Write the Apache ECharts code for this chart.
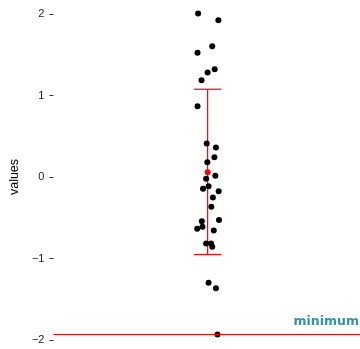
<!DOCTYPE html>
<html>
<head>
<meta charset="utf-8">
<script src="https://cdn.jsdelivr.net/npm/echarts@6/dist/echarts.min.js"></script>
<style>
  html, body { margin: 0; padding: 0; background: #fff; }
  #chart { width: 360px; height: 349px; }
</style>
</head>
<body>
<div id="chart"></div>
<script>
// jittered observations (x = jittered group position, y = value)
const pointX = [0.972, 1.038, 1.018, 0.970, 1.026, 1.003, 0.983, 0.970,
  1.000, 1.030, 1.025, 1.002, 1.028, 0.998, 1.006, 0.988, 1.039, 1.020,
  1.015, 0.984, 1.040, 0.969, 0.986, 1.023, 0.998, 1.014, 1.018,
  1.006, 1.030, 1.035];
const pointY = [2.006, 1.924, 1.605, 1.524, 1.323, 1.282, 1.188, 0.869,
  0.411, 0.362, 0.243, 0.182, 0.015, -0.022, -0.113, -0.145, -0.174, -0.252,
  -0.366, -0.542, -0.528, -0.636, -0.611, -0.656, -0.816, -0.816, -0.857,
  -1.298, -1.364, -1.933];

// summary: mean and error bar ends
const summaryX = [1.003];
const summaryMean = [0.059];
const summaryLow = [-0.951];
const summaryHigh = [1.077];
const capHalf = 0.045;

const minimumValue = -1.933;
const minimumLabel = "minimum";
const yTicks = [-2, -1, 0, 1, 2];

const chart = echarts.init(document.getElementById("chart"));

const font = "Liberation Sans, Arial, sans-serif";

const option = {
  animation: false,
  grid: { left: 49, right: 0, top: 14, bottom: 9 },
  xAxis: {
    type: "value",
    min: 0.5,
    max: 1.5,
    show: false,
  },
  yAxis: {
    type: "value",
    min: yTicks[0],
    max: yTicks[yTicks.length - 1],
    interval: 1,
    name: "values",
    nameLocation: "middle",
    nameRotate: 90,
    nameGap: 27,
    nameTextStyle: { fontFamily: font, fontSize: 12.5, color: "#000" },
    axisLine: { show: false },
    axisTick: { show: true, length: 4, lineStyle: { color: "#333", width: 1 } },
    axisLabel: {
      margin: 9,
      fontFamily: font,
      fontSize: 11,
      color: "#222",
      formatter: (v) => String(v).replace("-", "\u2212"),
    },
    splitLine: { show: false },
  },
  series: [
    {
      type: "scatter",
      clip: false,
      symbolSize: 6,
      itemStyle: { color: "#000", opacity: 1 },
      data: pointX.map((x, i) => [x, pointY[i]]),
      markLine: {
        silent: true,
        symbol: "none",
        lineStyle: { color: "#ff0000", width: 1.2, type: "solid" },
        label: {
          show: true,
          position: "insideEndTop",
          formatter: minimumLabel,
          color: "#3592ad",
          fontFamily: "DejaVu Sans, sans-serif",
          fontWeight: "bold",
          fontSize: 12.5,
          distance: [1, 6],
        },
        data: [{ yAxis: minimumValue }],
      },
    },
    {
      type: "custom",
      clip: false,
      data: summaryX.map((x, i) => [x, summaryLow[i], summaryHigh[i]]),
      renderItem: (params, api) => {
        const x = api.value(0);
        const lo = api.coord([x, api.value(1)]);
        const hi = api.coord([x, api.value(2)]);
        const l1 = api.coord([x - capHalf, api.value(1)]);
        const r1 = api.coord([x + capHalf, api.value(1)]);
        const l2 = api.coord([x - capHalf, api.value(2)]);
        const r2 = api.coord([x + capHalf, api.value(2)]);
        const style = { stroke: "#ff0000", lineWidth: 1.2 };
        return {
          type: "group",
          children: [
            { type: "line", shape: { x1: lo[0], y1: lo[1], x2: hi[0], y2: hi[1] }, style },
            { type: "line", shape: { x1: l1[0], y1: l1[1], x2: r1[0], y2: r1[1] }, style },
            { type: "line", shape: { x1: l2[0], y1: l2[1], x2: r2[0], y2: r2[1] }, style },
          ],
        };
      },
    },
    {
      type: "scatter",
      symbolSize: 6,
      itemStyle: { color: "#ff0000", opacity: 1 },
      data: summaryX.map((x, i) => [x, summaryMean[i]]),
      z: 5,
    },
  ],
};

chart.setOption(option);
</script>
</body>
</html>
